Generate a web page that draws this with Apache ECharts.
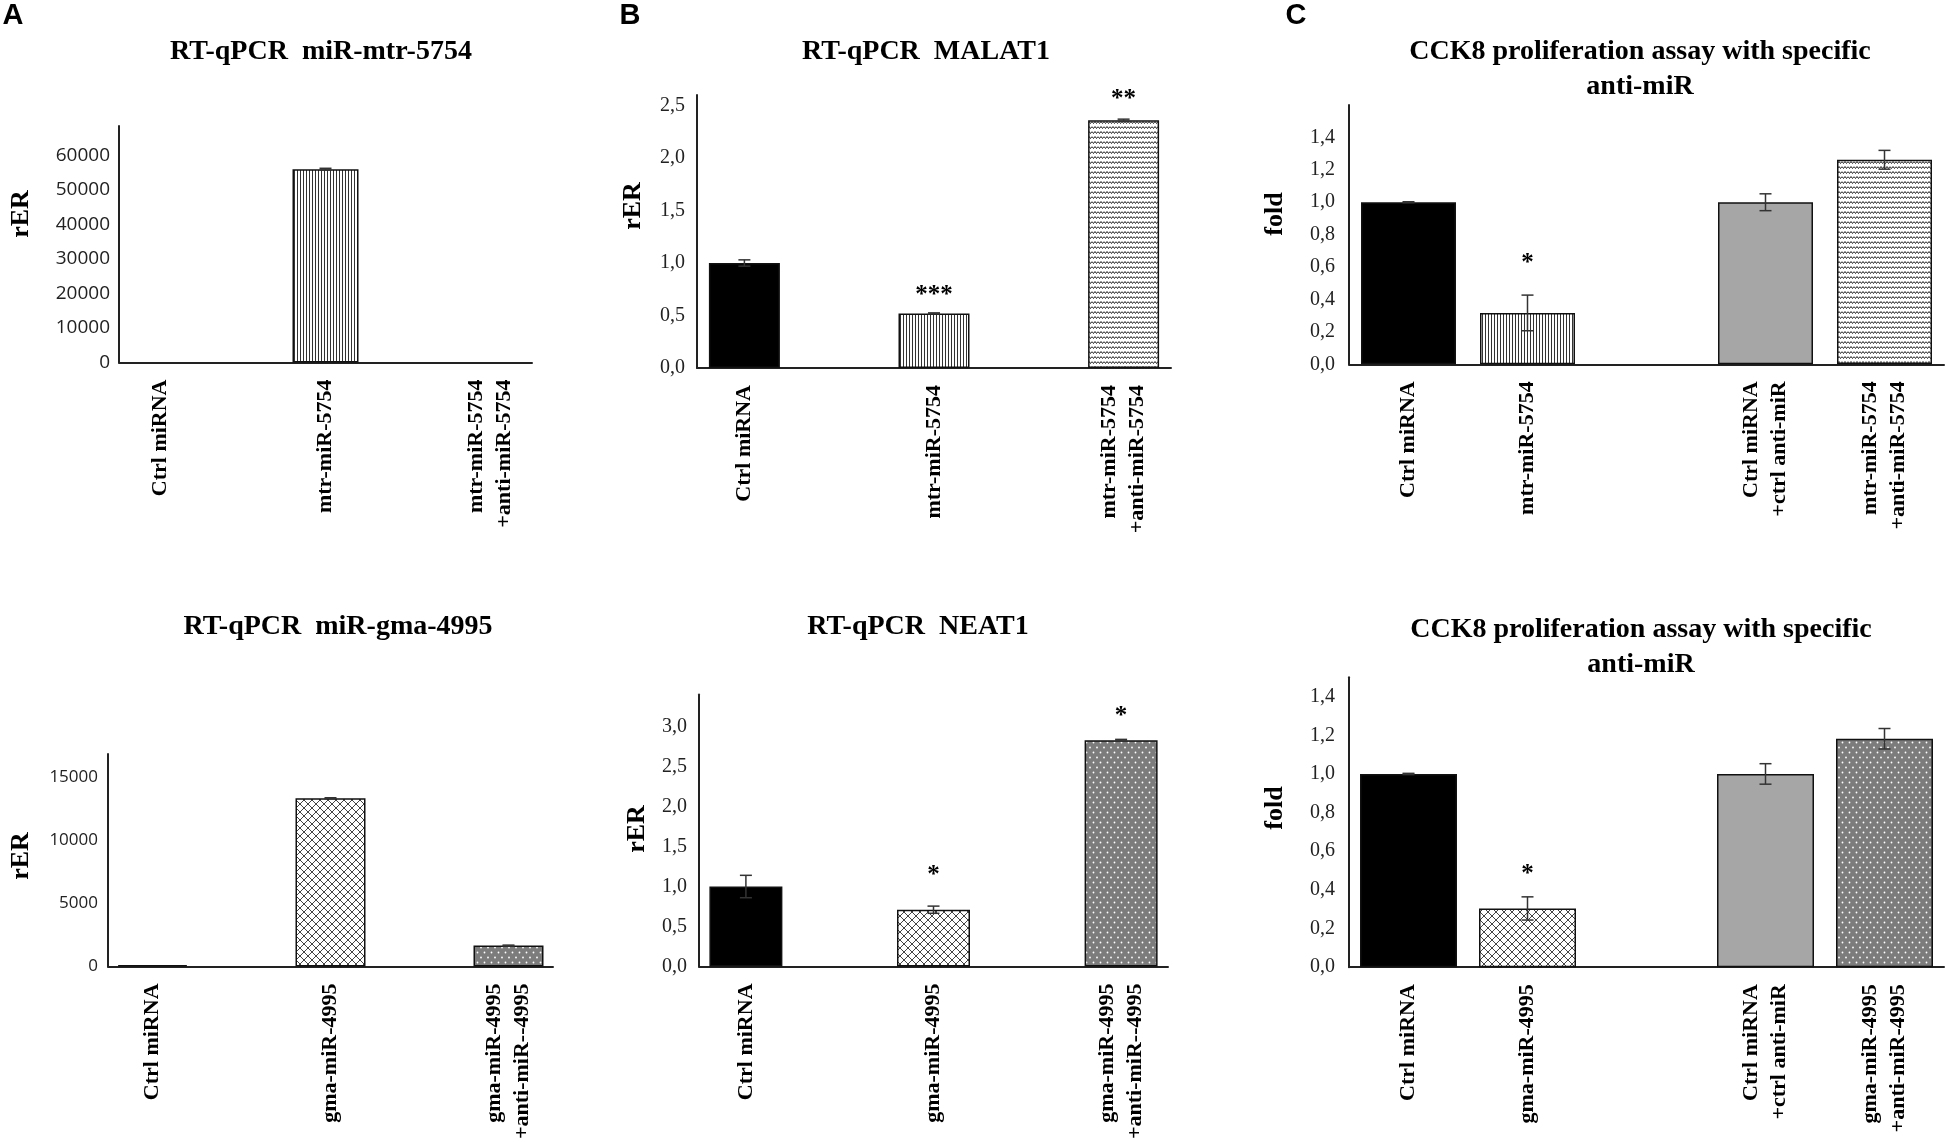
<!DOCTYPE html>
<html>
<head>
<meta charset="utf-8">
<script src="https://cdn.jsdelivr.net/npm/echarts@6/dist/echarts.min.js"></script>
<style>
html, body { margin: 0; padding: 0; background: #fff; }
#main { width: 1950px; height: 1142px; }
</style>
</head>
<body>
<div id="main"></div>
<script>
// ---- data ----
// A: RT-qPCR of the plant miRNAs
var catMtr = ['Ctrl miRNA', '', 'mtr-miR-5754', '', 'mtr-miR-5754\n+anti-miR-5754'];
var mtrLevel = [1, null, 56000, null, 8];
var mtrLevelErr = [0, null, 250, null, 0];

var catGma = ['Ctrl miRNA', '', 'gma-miR-4995', '', 'gma-miR-4995\n+anti-miR--4995'];
var gmaLevel = [100, null, 13300, null, 1650];
var gmaLevelErr = [0, null, 40, null, 40];

// B: RT-qPCR of the lncRNAs
var malat1 = [1.0, null, 0.52, null, 2.36];
var malat1Err = [0.03, null, 0.005, null, 0.01];
var malat1Sig = ['', '', '***', '', '**'];
var malat1SigAt = [null, null, 0.74, null, 2.6];

var neat1 = [1.0, null, 0.71, null, 2.83];
var neat1Err = [0.14, null, 0.045, null, 0.01];
var neat1Sig = ['', '', '*', '', '*'];
var neat1SigAt = [null, null, 1.2, null, 3.19];

// C: CCK8 proliferation
var catCckMtr = ['Ctrl miRNA', 'mtr-miR-5754', '', 'Ctrl miRNA\n+ctrl anti-miR', 'mtr-miR-5754\n+anti-miR-5754'];
var cckMtr = [1.0, 0.317, null, 1.0, 1.262];
var cckMtrErr = [0.003, 0.11, null, 0.052, 0.058];
var cckMtrSig = ['', '*', '', '', ''];
var cckMtrSigAt = [null, 0.654, null, null, null];

var catCckGma = ['Ctrl miRNA', 'gma-miR-4995', '', 'Ctrl miRNA\n+ctrl anti-miR', 'gma-miR-4995\n+anti-miR-4995'];
var cckGma = [1.0, 0.304, null, 1.0, 1.182];
var cckGmaErr = [0.003, 0.06, null, 0.053, 0.053];
var cckGmaSig = ['', '*', '', '', ''];
var cckGmaSigAt = [null, 0.504, null, null, null];

// ---- fills ----
function makePattern(kind) {
    var c = document.createElement('canvas');
    var g;
    if (kind === 'vstripe') {
        c.width = 3; c.height = 4;
        g = c.getContext('2d');
        g.fillStyle = '#fff'; g.fillRect(0, 0, 3, 4);
        g.fillStyle = '#333'; g.fillRect(0, 0, 1, 4);
    } else if (kind === 'zigzag') {
        c.width = 6; c.height = 5;
        g = c.getContext('2d');
        g.fillStyle = '#fff'; g.fillRect(0, 0, 6, 5);
        g.strokeStyle = '#222'; g.lineWidth = 1;
        g.beginPath();
        g.moveTo(0, 1.5); g.lineTo(1.5, 3.5); g.lineTo(3, 1.5); g.lineTo(4.5, 3.5); g.lineTo(6, 1.5);
        g.stroke();
    } else if (kind === 'hatch') {
        c.width = 8; c.height = 8;
        g = c.getContext('2d');
        g.fillStyle = '#fff'; g.fillRect(0, 0, 8, 8);
        g.strokeStyle = '#444'; g.lineWidth = 1;
        g.beginPath();
        g.moveTo(-1, -1); g.lineTo(9, 9);
        g.moveTo(9, -1); g.lineTo(-1, 9);
        g.stroke();
    } else if (kind === 'dots') {
        c.width = 7; c.height = 10;
        g = c.getContext('2d');
        g.fillStyle = '#7c7c7c'; g.fillRect(0, 0, 7, 10);
        g.fillStyle = '#fff';
        g.beginPath(); g.arc(1.5, 2.5, 0.9, 0, Math.PI * 2); g.fill();
        g.beginPath(); g.arc(5, 7.5, 0.9, 0, Math.PI * 2); g.fill();
    }
    return { image: c, repeat: 'repeat' };
}

function fillStyle(kind) {
    var s = { borderColor: '#111', borderWidth: 1.5 };
    if (kind === 'black') s.color = '#000';
    else if (kind === 'gray') s.color = '#a6a6a6';
    else if (kind === 'flat') { s.color = '#000'; s.borderWidth = 0; }
    else s.color = makePattern(kind);
    return s;
}

var SERIF = '"Liberation Serif", "Times New Roman", serif';
var SANS = '"Open Sans", "Liberation Sans", sans-serif';

var panels = [
    { cats: catMtr, vals: mtrLevel, errs: mtrLevelErr, sig: null, sigAt: null,
      fills: ['flat', null, 'vstripe', null, 'flat'],
      left: 119, top: 126, right: 532, bottom: 362.5, max: 68500, step: 10000, dec: 0,
      tickFont: SANS, tickSize: 19, tickMargin: 9, barW: 66,
      title: 'RT-qPCR  miR-mtr-5754', titleX: 321, titleY: 52,
      yName: 'rER', nameX: 21, nameY: 214 },
    { cats: catMtr, vals: malat1, errs: malat1Err, sig: malat1Sig, sigAt: malat1SigAt,
      fills: ['black', null, 'vstripe', null, 'zigzag'],
      left: 697, top: 95, right: 1171, bottom: 368, max: 2.6, step: 0.5, dec: 1,
      tickFont: SERIF, tickSize: 20, tickMargin: 12, barW: 71,
      title: 'RT-qPCR  MALAT1', titleX: 926, titleY: 52,
      yName: 'rER', nameX: 633, nameY: 206 },
    { cats: catCckMtr, vals: cckMtr, errs: cckMtrErr, sig: cckMtrSig, sigAt: cckMtrSigAt,
      fills: ['black', 'vstripe', null, 'gray', 'zigzag'],
      left: 1349, top: 105, right: 1944, bottom: 364.3, max: 1.6, step: 0.2, dec: 1,
      tickFont: SERIF, tickSize: 20, tickMargin: 14, barW: 95,
      title: 'CCK8 proliferation assay with specific\nanti-miR', titleX: 1640, titleY: 69,
      yName: 'fold', nameX: 1275, nameY: 214 },
    { cats: catGma, vals: gmaLevel, errs: gmaLevelErr, sig: null, sigAt: null,
      fills: ['black', null, 'hatch', null, 'dots'],
      left: 108, top: 754, right: 553, bottom: 968.3, max: 16800, step: 5000, dec: 0,
      tickFont: SANS, tickSize: 17, tickMargin: 10, barW: 70,
      title: 'RT-qPCR  miR-gma-4995', titleX: 338, titleY: 627,
      yName: 'rER', nameX: 21, nameY: 856 },
    { cats: catGma, vals: neat1, errs: neat1Err, sig: neat1Sig, sigAt: neat1SigAt,
      fills: ['black', null, 'hatch', null, 'dots'],
      left: 699, top: 694.6, right: 1168, bottom: 969.8, max: 3.4, step: 0.5, dec: 1,
      tickFont: SERIF, tickSize: 20, tickMargin: 12, barW: 73,
      title: 'RT-qPCR  NEAT1', titleX: 918, titleY: 627,
      yName: 'rER', nameX: 637, nameY: 829 },
    { cats: catCckGma, vals: cckGma, errs: cckGmaErr, sig: cckGmaSig, sigAt: cckGmaSigAt,
      fills: ['black', 'hatch', null, 'gray', 'dots'],
      left: 1349, top: 677.3, right: 1944, bottom: 967.2, max: 1.5, step: 0.2, dec: 1,
      tickFont: SERIF, tickSize: 20, tickMargin: 14, barW: 97,
      title: 'CCK8 proliferation assay with specific\nanti-miR', titleX: 1641, titleY: 647,
      yName: 'fold', nameX: 1275, nameY: 808 }
];

var letters = [['A', 13, 16], ['B', 630, 16], ['C', 1296, 16]];

var chart = echarts.init(document.getElementById('main'));
var option = {
    animation: false,
    backgroundColor: '#fff',
    title: [], grid: [], xAxis: [], yAxis: [], series: [], graphic: []
};

panels.forEach(function (p, k) {
    option.grid.push({
        left: p.left, top: p.top,
        width: p.right - p.left, height: p.bottom - p.top
    });
    option.xAxis.push({
        type: 'category', gridIndex: k, data: p.cats,
        axisLine: { lineStyle: { color: '#222', width: 2 } },
        axisTick: { show: false },
        axisLabel: {
            rotate: 90, interval: 0, margin: 17,
            fontFamily: SERIF, fontWeight: 'bold', fontSize: 22, color: '#000',
            lineHeight: 28
        }
    });
    option.yAxis.push({
        type: 'value', gridIndex: k, min: 0, max: p.max, interval: p.step,
        axisLine: { show: true, lineStyle: { color: '#222', width: 2 } },
        axisTick: { show: false },
        splitLine: { show: false },
        axisLabel: {
            showMaxLabel: false, margin: p.tickMargin,
            fontFamily: p.tickFont, fontSize: p.tickSize, color: '#222',
            formatter: function (v) {
                return p.dec ? v.toFixed(p.dec).replace('.', ',') : String(Math.round(v));
            }
        }
    });
    option.series.push({
        type: 'bar', xAxisIndex: k, yAxisIndex: k, barWidth: p.barW,
        data: p.vals.map(function (v, i) {
            if (v == null) return '-';
            return { value: v, itemStyle: fillStyle(p.fills[i]) };
        })
    });
    // error bars
    var errData = [];
    p.vals.forEach(function (v, i) {
        if (v != null && p.errs[i]) errData.push([i, v, p.errs[i]]);
    });
    option.series.push({
        type: 'custom', xAxisIndex: k, yAxisIndex: k, z: 5,
        data: errData,
        renderItem: function (params, api) {
            var i = api.value(0), v = api.value(1), e = api.value(2);
            var hi = api.coord([i, v + e]);
            var lo = api.coord([i, v - e]);
            var hw = 6;
            var st = { stroke: '#333', lineWidth: 1.5 };
            return {
                type: 'group',
                children: [
                    { type: 'line', shape: { x1: hi[0], y1: hi[1], x2: lo[0], y2: lo[1] }, style: st },
                    { type: 'line', shape: { x1: hi[0] - hw, y1: hi[1], x2: hi[0] + hw, y2: hi[1] }, style: st },
                    { type: 'line', shape: { x1: lo[0] - hw, y1: lo[1], x2: lo[0] + hw, y2: lo[1] }, style: st }
                ]
            };
        }
    });
    // significance marks
    if (p.sig) {
        var sigData = [];
        p.sigAt.forEach(function (y, i) {
            if (y != null) sigData.push([i, y]);
        });
        option.series.push({
            type: 'custom', xAxisIndex: k, yAxisIndex: k, z: 6, clip: false,
            data: sigData,
            renderItem: function (params, api) {
                var i = api.value(0);
                var pt = api.coord([i, api.value(1)]);
                return {
                    type: 'text', x: pt[0], y: pt[1] + 5,
                    style: {
                        text: p.sig[i], font: 'bold 25px ' + SERIF, fill: '#000',
                        textAlign: 'center', textVerticalAlign: 'middle',
                        align: 'center', verticalAlign: 'middle'
                    }
                };
            }
        });
    }
    var twoLines = p.title.indexOf('\n') >= 0;
    option.title.push({
        text: p.title, left: p.titleX, top: p.titleY - (twoLines ? 35 : 17.5),
        textAlign: 'center', padding: 0,
        textStyle: { fontFamily: SERIF, fontWeight: 'bold', fontSize: 28, color: '#000', lineHeight: 35 }
    });
    option.graphic.push({
        type: 'text', x: p.nameX, y: p.nameY, rotation: Math.PI / 2,
        style: {
            text: p.yName, font: 'bold 26px ' + SERIF, fill: '#000',
            textAlign: 'center', textVerticalAlign: 'middle',
            align: 'center', verticalAlign: 'middle'
        }
    });
});

letters.forEach(function (l) {
    option.graphic.push({
        type: 'text', x: l[1], y: l[2],
        style: {
            text: l[0], font: 'bold 29px "Liberation Sans", Arial, sans-serif', fill: '#000',
            textAlign: 'center', textVerticalAlign: 'middle',
            align: 'center', verticalAlign: 'middle'
        }
    });
});

chart.setOption(option);
</script>
</body>
</html>
